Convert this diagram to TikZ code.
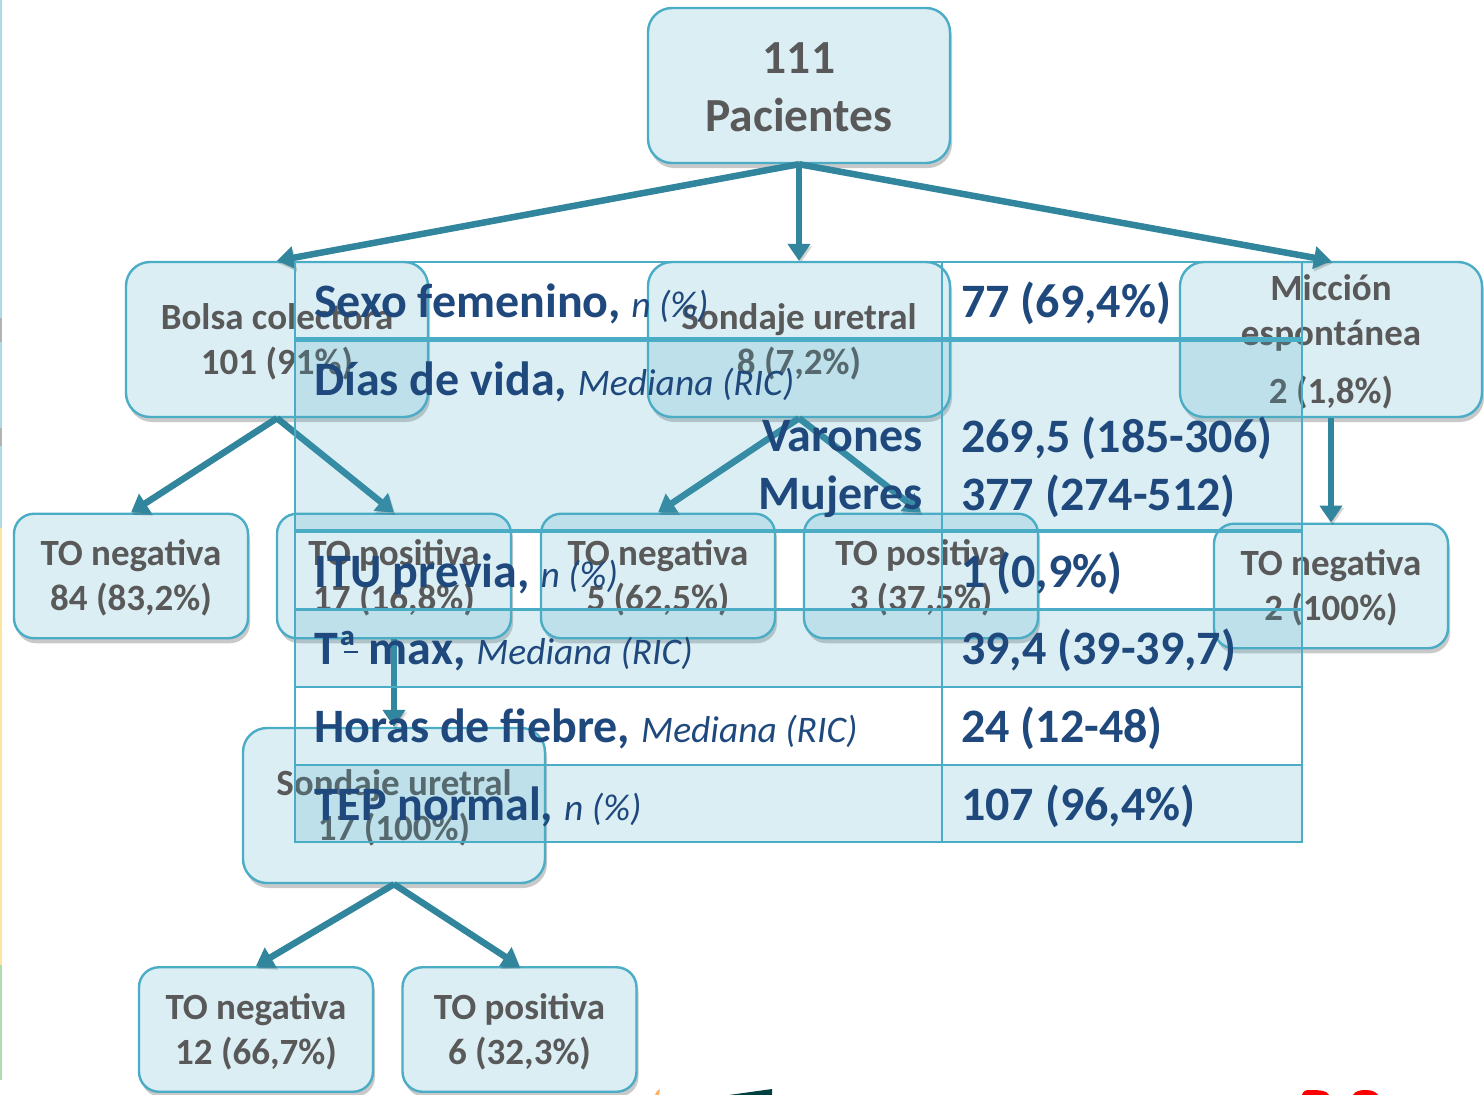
\documentclass[tikz,border=0pt]{standalone}
\usepackage{fontspec}
\setmainfont{Carlito}
\usetikzlibrary{arrows.meta,shadows}
\definecolor{acc}{HTML}{4BACC6}
\definecolor{boxfill}{HTML}{DBEEF4}
\definecolor{arrowc}{HTML}{31859C}
\definecolor{boxtext}{HTML}{595959}
\definecolor{tabtext}{HTML}{1F497D}
\tikzset{
  flowbox/.style={draw=acc,line width=2.4pt,fill=boxfill,rounded corners=24pt,text=boxtext,align=center,
    inner sep=0pt,font=\fontsize{37}{45}\selectfont\bfseries,
    drop shadow={shadow xshift=2pt,shadow yshift=-5pt,opacity=.3,fill=black!70}},
  bigbox/.style={flowbox,minimum width=302pt,minimum height=155pt},
  topbox/.style={bigbox,font=\fontsize{47.5}{58}\selectfont\bfseries},
  smallbox/.style={flowbox,minimum width=234pt,minimum height=124.5pt,rounded corners=20pt},
  flowarrow/.style={draw=arrowc,line width=6.5pt,-{Triangle[length=17pt,width=22pt]},
    preaction={draw=black,draw opacity=.16,fill opacity=.16,transform canvas={xshift=1.5pt,yshift=-2.5pt}}},
  tabrule/.style={draw=acc,line width=2.2pt},
  lab/.style={text=tabtext,anchor=base west,inner sep=0pt,font=\fontsize{48}{48}\selectfont\bfseries},
  labr/.style={lab,anchor=base east}
}
\newcommand{\notetxt}[1]{{\fontsize{37.5}{37.5}\selectfont\itshape\mdseries #1}}
\newcommand{\tp}{\rule{0pt}{30pt}}
\begin{document}
\begin{tikzpicture}[x=1pt,y=-1pt]
\useasboundingbox (0,0) rectangle (1484,1095);
% fragments at the image margins
\fill[color=acc!45] (0,0) rectangle (2,528);
\fill[color=gray!60] (0,318) rectangle (2,342);
\fill[color=gray!60] (0,428) rectangle (2,446);
\fill[color=yellow!50!orange!35] (0,528) rectangle (2,965);
\fill[color=green!40!gray!45] (0,965) rectangle (2,1080);
\fill[color=teal!50!black] (729,1095) -- (772,1089) -- (772,1095) -- cycle;
\fill[color=orange!60] (655,1095) .. controls (656,1092) and (657,1090) .. (660,1089) -- (659,1095) -- cycle;
\fill[color=red] (1302,1095) .. controls (1303,1091) and (1305,1090) .. (1310,1090) .. controls (1322,1090) and (1327,1091) .. (1329,1095) -- cycle;
\fill[color=red] (1353,1095) .. controls (1355,1091) and (1360,1090) .. (1366,1090) .. controls (1372,1090) and (1376,1092) .. (1378,1095) -- cycle;
% boxes
\node[topbox] (top) at (799,85.5) {\rule{0pt}{34.5pt}111\\Pacientes};
\node[bigbox] (bolsa) at (277,339.5) {\tp Bolsa colectora\\101 (91\%)};
\node[bigbox] (sond) at (799,339.5) {\tp Sondaje uretral\\8 (7,2\%)};
\node[bigbox] (mic) at (1331,339.5) {\tp Micción\\espontánea\\[13pt]2 (1,8\%)};
\node[smallbox] (n1) at (131,576) {\tp TO negativa\\84 (83,2\%)};
\node[smallbox] (p1) at (394,576) {\tp TO positiva\\17 (16,8\%)};
\node[smallbox] (n2) at (658,576) {\tp TO negativa\\5 (62,5\%)};
\node[smallbox] (p2) at (921,576) {\tp TO positiva\\3 (37,5\%)};
\node[smallbox] (n3) at (1331,586) {\tp TO negativa\\2 (100\%)};
\node[bigbox] (sond2) at (394,805.5) {\tp Sondaje uretral\\17 (100\%)};
\node[smallbox] (n4) at (256,1029.5) {\tp TO negativa\\12 (66,7\%)};
\node[smallbox] (p4) at (519.5,1029.5) {\tp TO positiva\\6 (32,3\%)};
% connectors
\draw[flowarrow] (top.south) -- (bolsa.north);
\draw[flowarrow] (top.south) -- (sond.north);
\draw[flowarrow] (top.south) -- (mic.north);
\draw[flowarrow] (bolsa.south) -- (n1.north);
\draw[flowarrow] (bolsa.south) -- (p1.north);
\draw[flowarrow] (sond.south) -- (n2.north);
\draw[flowarrow] (sond.south) -- (p2.north);
\draw[flowarrow] (mic.south) -- (n3.north);
\draw[flowarrow] (p1.south) -- (sond2.north);
\draw[flowarrow] (sond2.south) -- (n4.north);
\draw[flowarrow] (sond2.south) -- (p4.north);
% table
\fill[acc,opacity=.2] (295,339) rectangle (1302,531);
\fill[acc,opacity=.2] (295,609) rectangle (1302,687);
\fill[acc,opacity=.2] (295,765) rectangle (1302,842);
\draw[tabrule] (295,262) rectangle (1302,842);
\draw[tabrule] (942,262) -- (942,842);
\draw[tabrule,line width=5pt] (295,339) -- (1302,339);
\draw[tabrule,line width=3.5pt] (295,531) -- (1302,531);
\draw[tabrule,line width=3pt] (295,609) -- (1302,609);
\draw[tabrule] (295,687) -- (1302,687);
\draw[tabrule] (295,765) -- (1302,765);
% table text
\node[lab] (l1) at (314,317) {Sexo femenino, \notetxt{n (\%)}};
\node[lab] (l2) at (314,395) {Días de vida, \notetxt{Mediana (RIC)}};
\node[labr] (l2a) at (923,451) {Varones};
\node[labr] (l2b) at (923,509) {Mujeres};
\node[lab] (l3) at (314,587) {ITU previa, \notetxt{n (\%)}};
\node[lab] (l4) at (314,664) {Tª\llap{\rule[11pt]{14pt}{2.5pt}} max, \notetxt{Mediana (RIC)}};
\node[lab] (l5) at (314,742) {Horas de fiebre, \notetxt{Mediana (RIC)}};
\node[lab] (l6) at (314,820) {TEP normal, \notetxt{n (\%)}};
\node[lab] (v1) at (961,317) {77 (69,4\%)};
\node[lab] (v2a) at (961,452) {269,5 (185-306)};
\node[lab] (v2b) at (961,510) {377 (274-512)};
\node[lab] (v3) at (961,587) {1 (0,9\%)};
\node[lab] (v4) at (961,664) {39,4 (39-39,7)};
\node[lab] (v5) at (961,742) {24 (12-48)};
\node[lab] (v6) at (961,820) {107 (96,4\%)};
\end{tikzpicture}
\end{document}
